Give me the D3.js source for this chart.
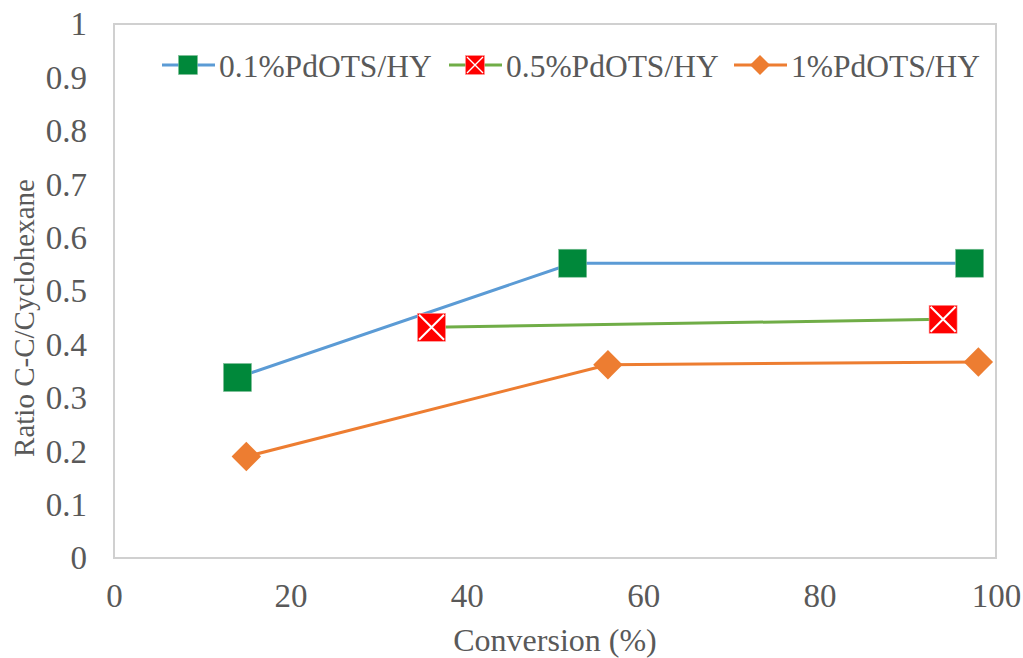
<!DOCTYPE html>
<html>
<head>
<meta charset="utf-8">
<script src="https://cdn.jsdelivr.net/npm/d3@7/dist/d3.min.js"></script>
<style>
  html, body { margin: 0; padding: 0; background: #fff; }
  svg { display: block; font-family: "Liberation Serif", "Times New Roman", serif; }
</style>
</head>
<body>
<svg id="chart" width="1023" height="658"></svg>
<script>
// Conversion (%) and C-C / cyclohexane ratio for each catalyst
const seriesNames = ["0.1%PdOTS/HY", "0.5%PdOTS/HY", "1%PdOTS/HY"];
const conv01 = [14, 52, 97];
const ratio01 = [0.338, 0.552, 0.552];
const conv05 = [36, 94];
const ratio05 = [0.432, 0.447];
const conv1 = [15, 56, 98];
const ratio1 = [0.190, 0.362, 0.367];
const xTicks = [0, 20, 40, 60, 80, 100];
const yTicks = [0, 0.1, 0.2, 0.3, 0.4, 0.5, 0.6, 0.7, 0.8, 0.9, 1];

const series = [
  { name: seriesNames[0], xs: conv01, ys: ratio01, line: "#5B9BD5", marker: "square", fill: "#00883A" },
  { name: seriesNames[1], xs: conv05, ys: ratio05, line: "#70AD47", marker: "cross", fill: "#FF0000" },
  { name: seriesNames[2], xs: conv1, ys: ratio1, line: "#ED7D31", marker: "diamond", fill: "#ED7D31" }
];

const svg = d3.select("#chart");
const plot = { left: 114, right: 996, top: 24, bottom: 558 };
const x = d3.scaleLinear().domain([0, 100]).range([plot.left, plot.right]);
const y = d3.scaleLinear().domain([0, 1]).range([plot.bottom, plot.top]);
const textColor = "#595959";
const serif = "'Liberation Serif', 'Times New Roman', serif";

// plot frame
svg.append("rect")
  .attr("x", plot.left).attr("y", plot.top)
  .attr("width", plot.right - plot.left).attr("height", plot.bottom - plot.top)
  .attr("fill", "none").attr("stroke", "#D0D0D0").attr("stroke-width", 2);

// axes (labels only, no tick marks)
const xAxis = svg.append("g")
  .attr("transform", `translate(0,${plot.bottom + 26})`)
  .call(d3.axisBottom(x).tickValues(xTicks).tickSize(0).tickPadding(0).tickFormat(d3.format("d")));
const yAxis = svg.append("g")
  .attr("transform", `translate(${plot.left - 27},0)`)
  .call(d3.axisLeft(y).tickValues(yTicks).tickSize(0).tickPadding(0)
    .tickFormat(d => d === 0 || d === 1 ? String(d) : d3.format(".1f")(d)));
[xAxis, yAxis].forEach(g => {
  g.select(".domain").remove();
  g.selectAll("text").attr("fill", textColor).style("font-size", "33px").style("font-family", serif);
});
xAxis.selectAll("text").attr("dy", "0.71em");
yAxis.selectAll("text").attr("dy", "0.33em");

// axis titles
svg.append("text")
  .attr("x", 555).attr("y", 651)
  .attr("text-anchor", "middle").attr("fill", textColor)
  .style("font-size", "32px").style("font-family", serif)
  .text("Conversion (%)");
svg.append("text")
  .attr("transform", "translate(34,318) rotate(-90)")
  .attr("text-anchor", "middle").attr("fill", textColor)
  .style("font-size", "29px").style("font-family", serif)
  .text("Ratio C-C/Cyclohexane");

function drawMarker(g, s, cx, cy, size) {
  const h = size / 2;
  if (s.marker === "square") {
    g.append("rect").attr("x", cx - h).attr("y", cy - h).attr("width", size).attr("height", size)
      .attr("fill", s.fill).attr("stroke", "#7FBF98").attr("stroke-width", 0.6);
  } else if (s.marker === "cross") {
    g.append("rect").attr("x", cx - h).attr("y", cy - h).attr("width", size).attr("height", size)
      .attr("fill", s.fill).attr("stroke", "#FF9A9A").attr("stroke-width", 0.6);
    const k = h - 1.5;
    g.append("path")
      .attr("d", `M${cx - k},${cy - k}L${cx + k},${cy + k}M${cx + k},${cy - k}L${cx - k},${cy + k}`)
      .attr("stroke", "#fff").attr("stroke-width", size > 20 ? 2 : 1.4);
  } else {
    const r = h * 1.05;
    g.append("path")
      .attr("d", `M${cx},${cy - r}L${cx + r},${cy}L${cx},${cy + r}L${cx - r},${cy}Z`)
      .attr("fill", s.fill);
  }
}

// series lines and markers
const line = d3.line().x(d => x(d[0])).y(d => y(d[1]));
series.forEach(s => {
  const pts = s.xs.map((v, i) => [v, s.ys[i]]);
  svg.append("path").datum(pts).attr("d", line)
    .attr("fill", "none").attr("stroke", s.line).attr("stroke-width", 3).attr("stroke-linejoin", "round");
});
series.forEach(s => {
  const g = svg.append("g");
  s.xs.forEach((v, i) => drawMarker(g, s, x(v), y(s.ys[i]), 28));
});

// legend
const legendX = [162, 449, 734];
const legendY = 65;
series.forEach((s, i) => {
  const g = svg.append("g");
  const lx = legendX[i];
  g.append("line").attr("x1", lx).attr("x2", lx + 53).attr("y1", legendY).attr("y2", legendY)
    .attr("stroke", s.line).attr("stroke-width", 3);
  drawMarker(g, s, lx + 26, legendY, 19);
  g.append("text").attr("x", lx + 57).attr("y", legendY + 12)
    .attr("fill", textColor).style("font-size", "31.5px").style("font-family", serif).text(s.name);
});
</script>
</body>
</html>
